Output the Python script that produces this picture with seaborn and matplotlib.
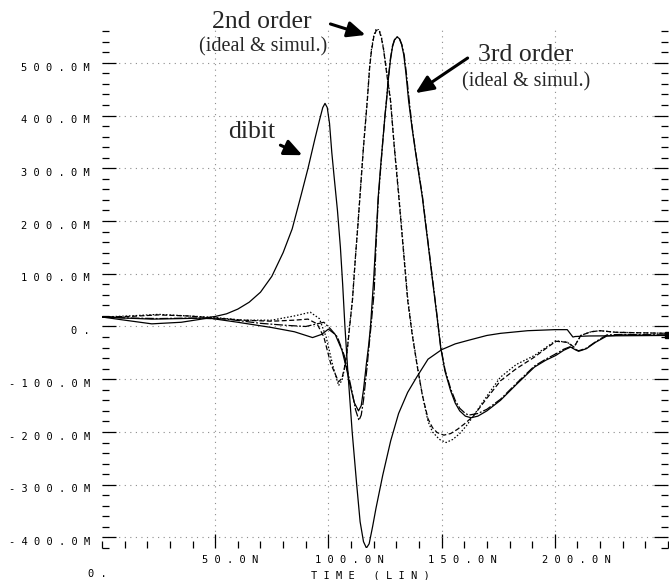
"""
Dibit response vs 2nd / 3rd order equalised pulses (SPICE style plot).
"""

import matplotlib
matplotlib.use("Agg")  # no display
import matplotlib.pyplot as plt
from matplotlib.ticker import MultipleLocator
import seaborn as sns

# time in ns, amplitude in mV

dibit_t = [0, 10, 22, 35, 45, 50, 55, 60, 65, 70, 75, 80, 84, 88, 91, 94, 96, 97.5,
           98.5, 99.5, 100.5, 101.5, 102.5, 104, 105.3, 106.3, 107.3, 108.5, 110.5,
           112.5, 114, 115.5, 116.8, 118, 119.5, 121, 124, 127.5, 131, 135, 139, 144,
           150, 156, 162, 170, 176, 188, 200, 205.5, 208, 209, 215, 250]
dibit_v = [18, 16, 14, 15, 16, 19, 24, 33, 46, 65, 95, 140, 185, 250, 300, 355, 390,
           415, 423, 415, 385, 330, 285, 220, 150, 80, 0, -80, -200,
           -300, -370, -408, -420, -412, -380, -345, -282, -217, -165, -125, -96, -62,
           -44, -33, -26, -17, -13, -8, -6, -6, -20, -19, -18, -17]

ord2_ideal_t = [0, 12, 25, 38, 50, 62, 75, 85, 91, 95, 98, 101, 104.5, 106, 107,
                108.3, 109.4, 110.6, 112, 113, 114, 115.5, 117.2, 118.2, 119, 120, 121,
                121.7, 122.5, 123.5, 124.4, 125.8, 127.4, 129, 131.1, 133, 135, 137,
                139.3, 141.5, 144, 146, 148, 151, 154, 157, 160, 164, 170, 176, 183,
                191, 196, 200.5, 205.5, 208.5, 211.5, 216, 220, 227, 250]
ord2_ideal_v = [18, 19, 22, 20, 16, 12, 10, 12, 14, 5, -20, -70, -105, -98, -80,
                -46, 0, 49, 135, 190, 250, 340, 429, 490, 522, 548, 560,
                563, 560, 545, 524, 478, 429, 345, 245, 150, 50, -15,
                -77, -130, -175, -192, -201, -206, -203, -195, -185, -170, -136, -103, -80,
                -58, -42, -28, -30, -39, -17, -10, -8, -11, -13]

ord2_simul_t = [0, 12, 25, 38, 50, 62, 75, 85, 92, 96, 99, 102, 104.5, 106, 107,
                108.3, 109.3, 110.6, 112, 113, 114, 115.5, 117.2, 118.2, 119, 120, 121,
                121.7, 122.5, 123.5, 124.4, 125.8, 127.4, 129, 131.1, 133, 135, 137,
                139.3, 141.5, 144, 146, 149, 152, 155, 158, 161, 164, 170, 176, 183,
                191, 196, 200.4, 205.5, 208.5, 211.5, 216, 220, 227, 250]
ord2_simul_v = [18, 20, 23, 20, 17, 12, 12, 20, 27, 15, -20, -75, -112, -102, -82,
                -46, 0, 49, 135, 192, 252, 342, 432, 492, 525, 551, 563,
                565, 562, 547, 526, 481, 432, 348, 250, 155, 55, -12,
                -75, -130, -180, -200, -214, -220, -214, -203, -188, -170, -132, -96, -72,
                -55, -40, -27, -30, -39, -17, -10, -8, -11, -13]

ord3_ideal_t = [0, 10, 22, 35, 47, 60, 75, 85, 93, 97, 100, 103, 106, 108, 109.5,
                111.5, 113.3, 114.5, 115.5, 116.8, 117.8, 118.6, 120, 121, 122, 123,
                124, 125, 125.7, 126.5, 127.4, 128.3, 129.2, 130.3, 131.3, 132.3, 133.3,
                134.3, 135.4, 137, 138.5, 140, 141.5, 143, 144.5, 146, 147.8, 149.6,
                151.5, 154, 156, 158, 160.5, 163, 166, 170, 176, 183, 191, 196, 200.4,
                204, 207, 209, 210.5, 212, 214, 218, 223, 230, 250]
ord3_ideal_v = [18, 12, 5, 8, 16, 8, -2, -10, -21, -15, -5, -15, -45, -80, -110,
                -145, -160, -150, -120, -70, -35, 0, 90, 165, 245, 300,
                350, 400, 429, 470, 505, 530, 543, 549, 546, 535, 515,
                478, 429, 375, 330, 287, 245, 192, 140, 87, 25, -40,
                -85, -122, -145, -160, -170, -173, -170, -160, -140, -110, -77, -64, -55,
                -45, -39, -44, -47, -45, -42, -30, -18, -16, -17]

ord3_simul_t = [0, 12, 25, 40, 55, 70, 82, 90, 95, 98, 101, 104, 107, 109, 110.5,
                112, 113.5, 114.5, 115.5, 117, 118, 118.8, 120.2, 121, 122, 123, 124,
                125, 125.7, 126.5, 127.4, 128.3, 129.2, 130.5, 131.5, 132.5, 133.5,
                134.5, 135.6, 137, 138.5, 140, 141.5, 143, 144.5, 146, 147.8, 149.6,
                151.5, 154, 156, 158, 160.5, 162, 166, 170, 176, 183, 191, 196, 200.4,
                204, 207, 209, 210.5, 212, 214, 218, 223, 230, 250]
ord3_simul_v = [18, 16, 15, 16, 14, 6, 2, 0, 5, 8, -5, -20, -55, -95, -125,
                -158, -178, -168, -140, -80, -35, 0, 65, 150, 240, 295, 350,
                400, 432, 472, 508, 532, 544, 549, 545, 534, 514,
                478, 432, 378, 332, 290, 248, 195, 143, 90, 27, -38,
                -82, -118, -140, -155, -165, -168, -165, -157, -138, -108, -75, -62, -52,
                -43, -38, -43, -46, -44, -41, -29, -16, -15, -16]

x_major = [50, 100, 150, 200]
y_major = [-400, -300, -200, -100, 0, 100, 200, 300, 400, 500]


def spaced(s):
    return " ".join(s)


def y_label(v):
    if v == 0:
        return spaced("0.")
    return spaced(f"{v:.1f}M")


sns.set_theme(style="white")
plt.rcParams["font.family"] = ["Liberation Serif", "DejaVu Serif"]

W, H = 669, 580
fig = plt.figure(figsize=(W / 100, H / 100), dpi=100)
ax = fig.add_axes([102 / W, 32 / H, 566 / W, 519.5 / H])

curves = [
    (dibit_t, dibit_v, "-"),
    (ord2_ideal_t, ord2_ideal_v, (0, (4, 2))),
    (ord2_simul_t, ord2_simul_v, (0, (1.2, 1.5))),
    (ord3_ideal_t, ord3_ideal_v, "-"),
    (ord3_simul_t, ord3_simul_v, (0, (7, 1.5, 1.5, 1.5))),
]
for t, v, ls in curves:
    sns.lineplot(x=t, y=v, ax=ax, color="black", lw=0.9, linestyle=ls,
                 sort=False, estimator=None)

# end marker on the right edge
ax.plot(dibit_t[-1], dibit_v[-1], marker="s", ms=5, color="black", clip_on=False)

ax.set_xlim(0, 250)
ax.set_ylim(-420, 565)
ax.set_xticks(x_major)
ax.set_yticks(y_major)
ax.xaxis.set_minor_locator(MultipleLocator(10))
ax.yaxis.set_minor_locator(MultipleLocator(20))
ax.tick_params(axis="y", which="both", direction="in", left=True, right=True,
               labelleft=False, color="black", width=0.9)
ax.tick_params(axis="x", which="both", direction="in", bottom=True, top=False,
               labelbottom=False, color="black", width=0.9)
ax.tick_params(which="major", length=10)
ax.tick_params(which="minor", length=5)
for s in ax.spines.values():
    s.set_visible(False)
ax.grid(which="major", linestyle=(0, (1, 4)), color="#8c8c8c", lw=0.8)
ax.set_xlabel("")
ax.set_ylabel("")

mono = dict(family="DejaVu Sans Mono", fontsize=7.5, color="black")
ytr = ax.get_yaxis_transform()
for v in y_major:
    ax.text(-0.021, v - 9, y_label(v), transform=ytr, ha="right", va="center",
            **mono)
xtr = ax.get_xaxis_transform()
for t in x_major:
    ax.text(t - 5.8, -0.023, spaced(f"{t:.1f}N"), transform=xtr, ha="left",
            va="center", **mono)
fig.text(370 / W, 1 - 575 / H, spaced("TIME (LIN)"), ha="center", va="center",
         **mono)
fig.text(97 / W, 1 - 574 / H, spaced("0."), ha="center", va="center", **mono)

# annotations
arrow = dict(arrowstyle="-|>,head_length=0.9,head_width=0.4", lw=2.2,
             color="black", shrinkA=0, shrinkB=0)
ax.text(70.8, 577, "2nd order", ha="center", va="center", fontsize=18.5)
ax.text(71.2, 530, "(ideal & simul.)", ha="center", va="center", fontsize=14.5)
ax.annotate("", xy=(116.4, 552.7), xytext=(100.9, 573.6), arrowprops=arrow,
            annotation_clip=False)
ax.text(187.2, 514.7, "3rd order", ha="center", va="center", fontsize=18.5)
ax.text(187.2, 463.4, "(ideal & simul.)", ha="center", va="center", fontsize=14.5)
ax.annotate("", xy=(138.5, 442.5), xytext=(161.5, 509), arrowprops=arrow)
ax.text(65.9, 368.5, "dibit", ha="center", va="center", fontsize=18.5)
ax.annotate("", xy=(88.5, 324.8), xytext=(78.8, 343.8), arrowprops=arrow)

fig.savefig("out.png", dpi=100)
